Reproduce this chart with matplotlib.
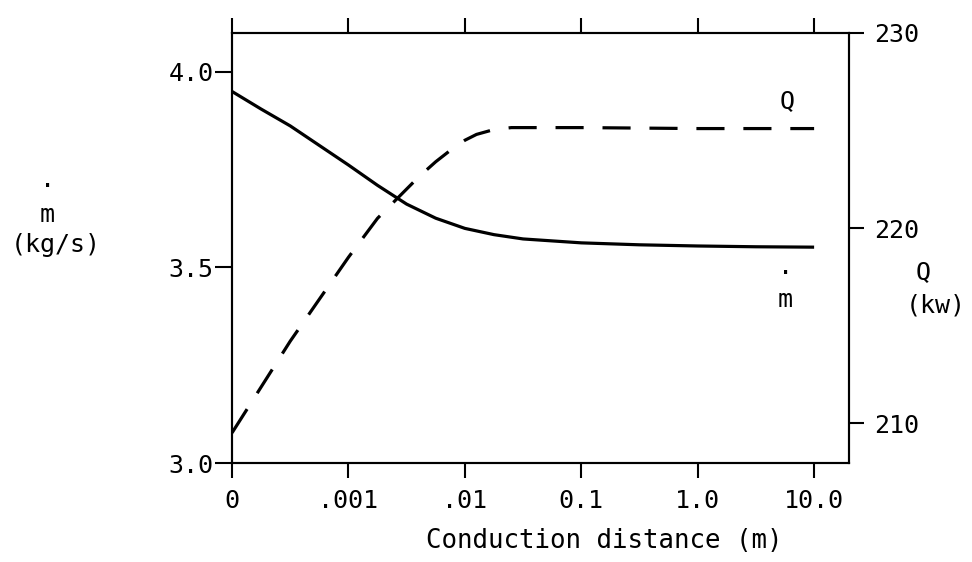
import matplotlib
matplotlib.use("Agg")
import matplotlib.pyplot as plt

plt.rcParams['font.family'] = ['DejaVu Sans Mono', 'DejaVu Sans']

# x axis: evenly spaced decades, positions 0..5
tick_labels = ['0', '.001', '.01', '0.1', '1.0', '10.0']
tick_pos = [0, 1, 2, 3, 4, 5]

# mass flow (left axis, kg/s)
m_pos = [0, 0.25, 0.5, 0.75, 1.0, 1.25, 1.5, 1.75, 2.0, 2.25, 2.5, 3.0, 3.5, 4.0, 4.5, 5.0]
m_val = [3.95, 3.905, 3.862, 3.812, 3.762, 3.71, 3.662, 3.626, 3.600, 3.584, 3.573,
         3.563, 3.558, 3.555, 3.553, 3.552]

# heat rate (right axis, kw)
q_pos = [0, 0.5, 1.0, 1.1, 1.25, 1.4, 1.5, 1.6, 1.75, 1.9, 2.0, 2.1, 2.25, 2.4, 2.6,
         3.0, 4.0, 5.0]
q_val = [209.5, 214.2, 218.5, 219.3, 220.5, 221.4, 222.0, 222.6, 223.4, 224.1, 224.5,
         224.8, 225.05, 225.15, 225.15, 225.15, 225.1, 225.1]

fig = plt.figure(figsize=(9.72, 5.62), dpi=100)
ax = fig.add_axes([0.2387, 0.176, 0.8735 - 0.2387, 0.9413 - 0.176])
ax2 = ax.twinx()

ax.plot(m_pos, m_val, color='black', lw=2.3, solid_capstyle='butt')
ax2.plot(q_pos, q_val, color='black', lw=2.3, dashes=(8.8, 5.9))

ax.set_xlim(0, 5.3)
ax.set_ylim(3.0, 4.0995)
ax2.set_ylim(207.95, 230.0)

ax.set_xticks(tick_pos)
ax.set_xticklabels(tick_labels)
ax.set_yticks([3.0, 3.5, 4.0])
ax.set_yticklabels(['3.0', '3.5', '4.0'])
ax2.set_yticks([210, 220, 230])

for a in (ax, ax2):
    for s in a.spines.values():
        s.set_linewidth(1.5)

ax.tick_params(axis='x', which='both', direction='out', length=11, width=1.5,
               pad=8, labelsize=18, top=True, labeltop=False)
ax.tick_params(axis='y', direction='out', length=12, width=1.5, pad=1.5, labelsize=18)
ax2.tick_params(axis='y', direction='out', length=11, width=1.5, pad=7, labelsize=18)

# x label sits right of the axes centre in the original
fig.text(604 / 972, 1 - 541 / 562, 'Conduction distance (m)', fontsize=18.5,
         ha='center', va='center')

# left axis label
fig.text(47 / 972, 1 - 187 / 562, '·', fontsize=18, ha='center', va='center')
fig.text(47 / 972, 1 - 215 / 562, 'm', fontsize=18, ha='center', va='center')
fig.text(56 / 972, 1 - 245 / 562, '(kg/s)', fontsize=18, ha='center', va='center')

# right axis label
fig.text(923 / 972, 1 - 272 / 562, 'Q', fontsize=18, ha='center', va='center')
fig.text(936 / 972, 1 - 305 / 562, '(kw)', fontsize=18, ha='center', va='center')

# curve labels
fig.text(787 / 972, 1 - 101 / 562, 'Q', fontsize=18, ha='center', va='center')
fig.text(785 / 972, 1 - 274 / 562, '·', fontsize=18, ha='center', va='center')
fig.text(785 / 972, 1 - 300 / 562, 'm', fontsize=18, ha='center', va='center')

fig.savefig('out.png', dpi=100)
